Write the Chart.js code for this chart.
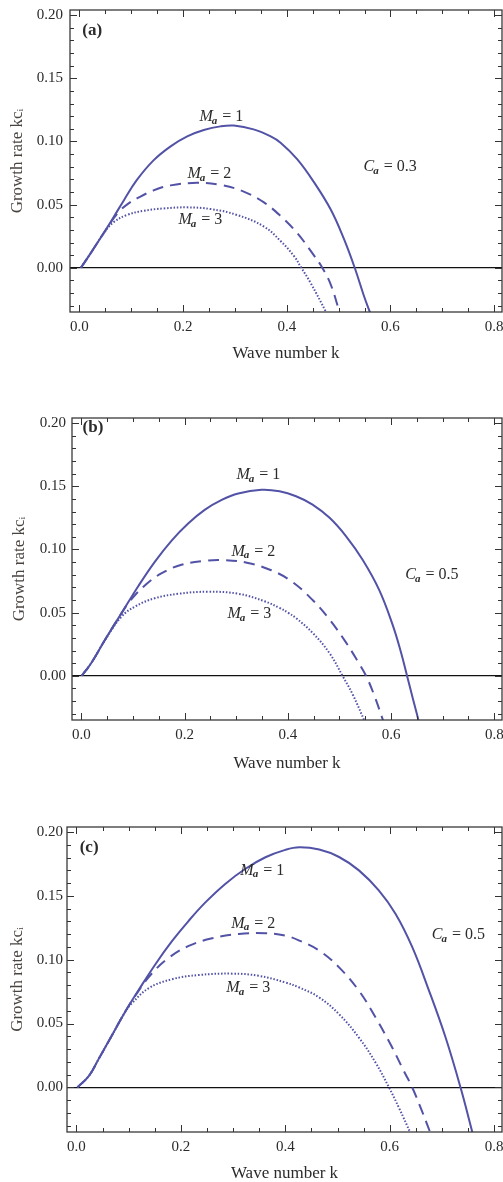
<!DOCTYPE html>
<html>
<head>
<meta charset="utf-8">
<script src="https://cdn.jsdelivr.net/npm/chart.js@4/dist/chart.umd.min.js"></script>
<style>
  html, body { margin: 0; padding: 0; background: #fff; overflow: hidden; }
  canvas { position: absolute; left: 0; }
</style>
</head>
<body>
<canvas id="panelA" width="503" height="390" style="top:0px"></canvas>
<canvas id="panelB" width="503" height="390" style="top:390px"></canvas>
<canvas id="panelC" width="503" height="402" style="top:780px"></canvas>
<script>
// tick labels
const xMajor = [0, 0.2, 0.4, 0.6, 0.8];
const yMajor = [0, 0.05, 0.1, 0.15, 0.2];
const machNumbers = [1, 2, 3];
const capNumbers = [0.3, 0.5, 0.5];
const panelTags = ['(a)', '(b)', '(c)'];

// panel (a), Ca = 0.3
const kA1 = [0.003, 0.021, 0.047, 0.066, 0.086, 0.111, 0.143, 0.176, 0.208, 0.240, 0.272, 0.298, 0.336, 0.369, 0.388, 0.420, 0.452, 0.485, 0.510, 0.531, 0.549, 0.562];
const gA1 = [0, 0.0110, 0.0275, 0.040, 0.0535, 0.0695, 0.0850, 0.0961, 0.1040, 0.1090, 0.1119, 0.1125, 0.1095, 0.1040, 0.0990, 0.0860, 0.068, 0.0459, 0.0230, 0, -0.0225, -0.037];
const kA2 = [0.003, 0.021, 0.047, 0.066, 0.079, 0.095, 0.111, 0.143, 0.176, 0.227, 0.272, 0.317, 0.356, 0.388, 0.420, 0.452, 0.4685, 0.485, 0.503];
const gA2 = [0, 0.0110, 0.0275, 0.039, 0.0455, 0.0510, 0.0549, 0.0612, 0.0652, 0.0672, 0.0656, 0.0603, 0.0517, 0.0410, 0.0275, 0.010, 0, -0.0135, -0.037];
const kA3 = [0.003, 0.021, 0.047, 0.066, 0.092, 0.124, 0.163, 0.208, 0.253, 0.304, 0.356, 0.388, 0.414, 0.428, 0.446, 0.477];
const gA3 = [0, 0.0110, 0.0272, 0.0360, 0.0418, 0.0451, 0.0470, 0.0478, 0.0465, 0.0418, 0.0326, 0.0212, 0.0092, 0, -0.012, -0.036];

// panel (b), Ca = 0.5
const kB1 = [0.001, 0.020, 0.046, 0.078, 0.110, 0.142, 0.175, 0.207, 0.239, 0.272, 0.304, 0.349, 0.384, 0.416, 0.448, 0.481, 0.513, 0.545, 0.577, 0.603, 0.619, 0.631, 0.642, 0.655];
const gB1 = [0, 0.0105, 0.0285, 0.0496, 0.0707, 0.0900, 0.1070, 0.1205, 0.1313, 0.1392, 0.1443, 0.1472, 0.1460, 0.1421, 0.1355, 0.1250, 0.1104, 0.0918, 0.068, 0.0405, 0.0190, 0, -0.0175, -0.038];
const kB2 = [0.001, 0.020, 0.046, 0.078, 0.094, 0.123, 0.155, 0.194, 0.239, 0.278, 0.323, 0.368, 0.407, 0.448, 0.481, 0.513, 0.535, 0.5516, 0.568, 0.586];
const gB2 = [0, 0.0105, 0.0285, 0.0496, 0.059, 0.0715, 0.0810, 0.0878, 0.0910, 0.0915, 0.0893, 0.0835, 0.0748, 0.0600, 0.0445, 0.0262, 0.0118, 0, -0.0160, -0.037];
const kB3 = [0.001, 0.020, 0.046, 0.078, 0.104, 0.142, 0.188, 0.246, 0.304, 0.355, 0.384, 0.401, 0.416, 0.448, 0.481, 0.506, 0.526, 0.550];
const gB3 = [0, 0.0105, 0.0283, 0.0468, 0.0548, 0.0613, 0.0649, 0.0665, 0.0649, 0.0590, 0.0537, 0.0498, 0.0457, 0.0340, 0.0178, 0, -0.015, -0.037];

// panel (c), Ca = 0.5
const kC1 = [0.002, 0.024, 0.043, 0.069, 0.094, 0.120, 0.151, 0.183, 0.215, 0.247, 0.285, 0.323, 0.362, 0.400, 0.427, 0.465, 0.503, 0.541, 0.579, 0.611, 0.643, 0.675, 0.707, 0.7355, 0.760];
const gC1 = [0, 0.0090, 0.0225, 0.0414, 0.0597, 0.0768, 0.0963, 0.1145, 0.1305, 0.1449, 0.1594, 0.1711, 0.1803, 0.1861, 0.1881, 0.1863, 0.1805, 0.1700, 0.1543, 0.1360, 0.1100, 0.0760, 0.0390, 0, -0.038];
const kC2 = [0.002, 0.024, 0.043, 0.069, 0.094, 0.120, 0.145, 0.177, 0.215, 0.260, 0.311, 0.362, 0.400, 0.427, 0.465, 0.503, 0.541, 0.573, 0.605, 0.627, 0.643, 0.662, 0.680];
const gC2 = [0, 0.0090, 0.0225, 0.0414, 0.0597, 0.0762, 0.0895, 0.1015, 0.1108, 0.1168, 0.1202, 0.1207, 0.1189, 0.1150, 0.1071, 0.0940, 0.0757, 0.0547, 0.0310, 0.0128, 0, -0.0189, -0.038];
const kC3 = [0.002, 0.024, 0.043, 0.069, 0.094, 0.107, 0.139, 0.183, 0.234, 0.298, 0.349, 0.400, 0.427, 0.465, 0.503, 0.541, 0.573, 0.5985, 0.618, 0.641];
const gC3 = [0, 0.0090, 0.0225, 0.0414, 0.0595, 0.0662, 0.0778, 0.0847, 0.0880, 0.0891, 0.0874, 0.0822, 0.0782, 0.0704, 0.0573, 0.0390, 0.0193, 0, -0.0163, -0.037];

const lineColor = 'rgb(82, 82, 166)';
const serif = "'Liberation Serif', 'DejaVu Serif', serif";

function pts(ks, gs) {
    return ks.map((k, i) => ({ x: k, y: gs[i] }));
}

// draws e.g. "M_a = 1" with italic main letter and subscript
function subLabel(ctx, px, py, main, sub, rest) {
    ctx.textAlign = 'left';
    ctx.textBaseline = 'middle';
    ctx.font = 'italic 16px ' + serif;
    ctx.fillText(main, px, py);
    let w = ctx.measureText(main).width;
    ctx.font = 'italic bold 11px ' + serif;
    ctx.fillText(sub, px + w - 1, py + 4);
    w += ctx.measureText(sub).width;
    ctx.font = '16px ' + serif;
    ctx.fillText(' = ' + rest, px + w, py);
}

const decorPlugin = {
    id: 'decor',
    afterDatasetsDraw(chart, args, opts) {
        const { ctx, chartArea: a, scales: { x, y } } = chart;
        ctx.save();
        // inward ticks on all four sides
        ctx.strokeStyle = '#333';
        ctx.lineWidth = 1;
        ctx.beginPath();
        for (let i = 0; i <= 16; i++) {
            const v = i * 0.05;
            if (v > x.max) break;
            const px = Math.round(x.getPixelForValue(v)) + 0.5;
            const len = i % 4 === 0 ? 7 : 4;
            ctx.moveTo(px, a.bottom); ctx.lineTo(px, a.bottom - len);
            ctx.moveTo(px, a.top); ctx.lineTo(px, a.top + len);
        }
        for (let i = -3; i <= 20; i++) {
            const v = i * 0.01;
            const py = Math.round(y.getPixelForValue(v)) + 0.5;
            const len = i % 5 === 0 ? 7 : 4;
            ctx.moveTo(a.left, py); ctx.lineTo(a.left + len, py);
            ctx.moveTo(a.right, py); ctx.lineTo(a.right - len, py);
        }
        ctx.stroke();
        // frame
        ctx.strokeStyle = '#3a3a3a';
        ctx.lineWidth = 1.3;
        ctx.strokeRect(a.left, a.top, a.right - a.left, a.bottom - a.top);

        // annotations
        ctx.fillStyle = '#2b2b2b';
        opts.machPos.forEach((p, i) => {
            subLabel(ctx, x.getPixelForValue(p[0]), y.getPixelForValue(p[1]), 'M', 'a', String(machNumbers[i]));
        });
        subLabel(ctx, x.getPixelForValue(opts.capPos[0]), y.getPixelForValue(opts.capPos[1]), 'C', 'a', String(opts.cap));
        ctx.font = 'bold 17px ' + serif;
        ctx.textBaseline = 'middle';
        ctx.fillText(opts.tag, x.getPixelForValue(opts.tagPos[0]), y.getPixelForValue(opts.tagPos[1]));
        ctx.restore();
    }
};

function makePanel(id, curves, p) {
    const canvas = document.getElementById(id);
    const H = canvas.height;
    return new Chart(canvas, {
        type: 'line',
        data: {
            datasets: [
                { data: pts(curves[0][0], curves[0][1]), borderColor: lineColor, borderWidth: 2 },
                { data: pts(curves[1][0], curves[1][1]), borderColor: lineColor, borderWidth: 2, borderDash: [11, 7] },
                { data: pts(curves[2][0], curves[2][1]), borderColor: lineColor, borderWidth: 2, borderDash: [1.5, 1.8] }
            ]
        },
        options: {
            responsive: false,
            animation: false,
            devicePixelRatio: 1,
            layout: { padding: { top: p.top, right: 1, bottom: 0, left: 0 } },
            elements: {
                point: { radius: 0 },
                line: { tension: 0.4, fill: false }
            },
            plugins: {
                legend: { display: false },
                tooltip: { enabled: false },
                decor: { machPos: p.machPos, capPos: p.capPos, cap: p.cap, tag: p.tag, tagPos: p.tagPos }
            },
            scales: {
                x: {
                    type: 'linear',
                    min: -0.018,
                    max: 0.815,
                    afterBuildTicks: s => { s.ticks = xMajor.map(v => ({ value: v })); },
                    afterFit: s => { s.height = H - p.bottom; s.paddingLeft = 0; s.paddingRight = 0; },
                    grid: { display: false },
                    border: { display: false },
                    ticks: {
                        autoSkip: false, maxRotation: 0, padding: -1.5,
                        color: '#2b2b2b', font: { family: serif, size: 15 },
                        callback: v => v.toFixed(1)
                    },
                    title: {
                        display: true, text: 'Wave number k', color: '#2b2b2b',
                        font: { family: serif, size: 17, lineHeight: 1 },
                        padding: { top: 0, bottom: p.xTitlePad }
                    }
                },
                y: {
                    type: 'linear',
                    min: -0.035,
                    max: 0.204,
                    afterBuildTicks: s => { s.ticks = yMajor.map(v => ({ value: v })); },
                    afterFit: s => { s.width = p.left; s.paddingTop = 0; s.paddingBottom = 0; },
                    grid: {
                        drawTicks: false,
                        lineWidth: 1.2,
                        color: c => (c.tick && c.tick.value === 0) ? '#111' : 'rgba(0,0,0,0)'
                    },
                    border: { display: false },
                    ticks: {
                        autoSkip: false, padding: p.yTickPad,
                        color: '#2b2b2b', font: { family: serif, size: 15 },
                        callback: v => v.toFixed(2)
                    },
                    title: {
                        display: true, text: 'Growth rate kc\u1D62', color: '#4a4440',
                        font: { family: serif, size: 17, lineHeight: 1 },
                        padding: { top: p.yTitlePad, bottom: 0 }
                    }
                }
            }
        },
        plugins: [decorPlugin]
    });
}

makePanel('panelA', [[kA1, gA1], [kA2, gA2], [kA3, gA3]], {
    top: 10, bottom: 312, left: 70, xTitlePad: 28, yTitlePad: 9.5, yTickPad: 7,
    machPos: [[0.2317, 0.1192], [0.2085, 0.0741], [0.191, 0.0377]],
    capPos: [0.548, 0.0797], cap: capNumbers[0], tag: panelTags[0], tagPos: [0.0058, 0.188]
});
makePanel('panelB', [[kB1, gB1], [kB2, gB2], [kB3, gB3]], {
    top: 28, bottom: 330, left: 72, xTitlePad: 8, yTitlePad: 11.5, yTickPad: 6,
    machPos: [[0.3006, 0.159], [0.2909, 0.0983], [0.2831, 0.049]],
    capPos: [0.6277, 0.0799], cap: capNumbers[1], tag: panelTags[1], tagPos: [0.0025, 0.1962]
});
makePanel('panelC', [[kC1, gC1], [kC2, gC2], [kC3, gC3]], {
    top: 47, bottom: 352, left: 67, xTitlePad: 0, yTitlePad: 9, yTickPad: 4,
    machPos: [[0.3139, 0.1698], [0.2967, 0.1284], [0.2871, 0.0781]],
    capPos: [0.6806, 0.1193], cap: capNumbers[2], tag: panelTags[2], tagPos: [0.0063, 0.1881]
});
</script>
</body>
</html>
